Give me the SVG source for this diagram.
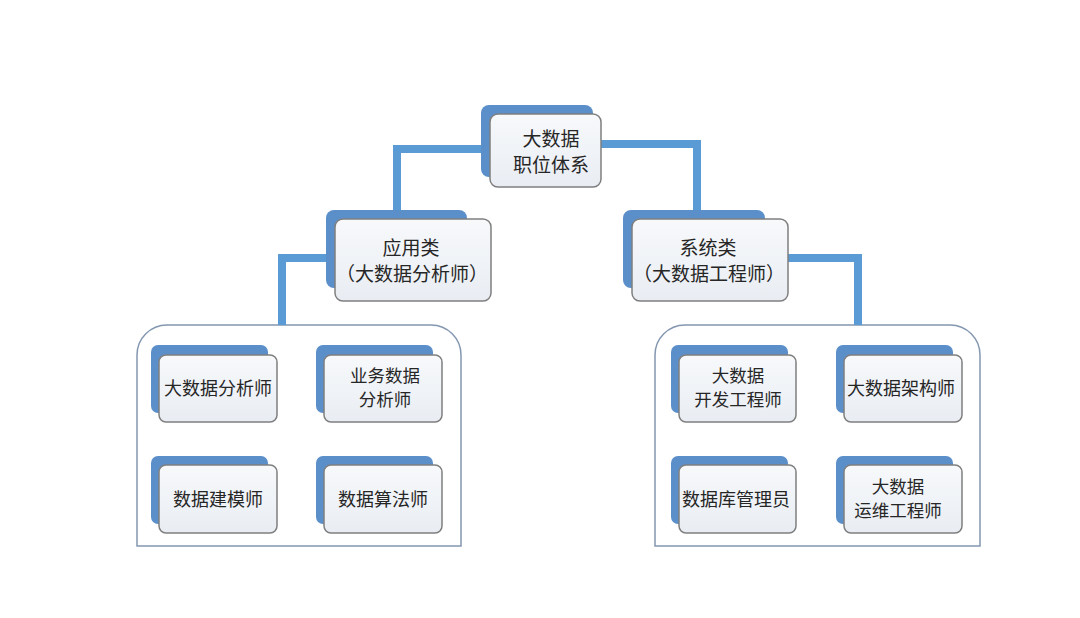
<svg xmlns="http://www.w3.org/2000/svg" width="1080" height="618" viewBox="0 0 1080 618">
<defs>
<linearGradient id="fg" x1="0" y1="0" x2="0" y2="1">
<stop offset="0" stop-color="#f7f9fb"/>
<stop offset="1" stop-color="#e9edf3"/>
</linearGradient>
<style>
.back{fill:#5b8fca;}
.front{fill:url(#fg);stroke:#7f7f7f;stroke-width:1.5;}
.conn{fill:none;stroke:#5b9bd5;stroke-width:8;}
.cont{fill:#ffffff;stroke:#8497b0;stroke-width:1.5;}
text{font-family:"Noto Sans CJK SC","Noto Sans",sans-serif;fill:#262626;text-anchor:middle;}
.t19{font-size:19px;}
.t18{font-size:18px;}
.t17{font-size:17.5px;}
</style>
</defs>
<rect width="1080" height="618" fill="#ffffff"/>

<g id="containers">
<path class="cont" d="M137,546 V355 A30,30 0 0 1 167,325 H431 A30,30 0 0 1 461,355 V546 Z"/>
<path class="cont" d="M655,546 V355 A30,30 0 0 1 685,325 H950 A30,30 0 0 1 980,355 V546 Z"/>
</g>

<g id="connectors">
<polyline class="conn" points="490,149 397,149 397,212"/>
<polyline class="conn" points="601,144 697,144 697,212"/>
<polyline class="conn" points="335,258 282,258 282,325"/>
<polyline class="conn" points="788,258 858,258 858,325"/>
</g>

<g id="root">
<rect class="back" x="481" y="105" width="112" height="72" rx="8"/>
<rect class="front" x="490" y="114" width="111" height="73" rx="8"/>
<text class="t19" x="551" y="146">大数据</text>
<text class="t19" x="551" y="171.5">职位体系</text>
</g>

<g id="app">
<rect class="back" x="326" y="210" width="141" height="78" rx="8"/>
<rect class="front" x="335" y="219" width="156" height="82" rx="8"/>
<text class="t19" x="411" y="255">应用类</text>
<text class="t19" x="412" y="280.5">（大数据分析师）</text>
</g>

<g id="sys">
<rect class="back" x="623" y="210" width="142" height="78" rx="8"/>
<rect class="front" x="632" y="219" width="156" height="82" rx="8"/>
<text class="t19" x="708" y="255">系统类</text>
<text class="t19" x="709" y="280.5">（大数据工程师）</text>
</g>

<g id="n-l1">
<rect class="back" x="151" y="345" width="117" height="68" rx="7"/>
<rect class="front" x="159" y="355" width="118" height="67" rx="7"/>
<text class="t18" x="218" y="395">大数据分析师</text>
</g>
<g id="n-l2">
<rect class="back" x="316" y="345" width="117" height="68" rx="7"/>
<rect class="front" x="324" y="355" width="118" height="67" rx="7"/>
<text class="t17" x="385" y="382">业务数据</text>
<text class="t17" x="385" y="406">分析师</text>
</g>
<g id="n-l3">
<rect class="back" x="151" y="456" width="117" height="68" rx="7"/>
<rect class="front" x="159" y="465" width="118" height="68" rx="7"/>
<text class="t18" x="218" y="506">数据建模师</text>
</g>
<g id="n-l4">
<rect class="back" x="316" y="456" width="117" height="68" rx="7"/>
<rect class="front" x="324" y="465" width="118" height="68" rx="7"/>
<text class="t18" x="383" y="506">数据算法师</text>
</g>

<g id="n-r1">
<rect class="back" x="671" y="345" width="117" height="68" rx="7"/>
<rect class="front" x="679" y="355" width="117" height="67" rx="7"/>
<text class="t17" x="738" y="382">大数据</text>
<text class="t17" x="738" y="406">开发工程师</text>
</g>
<g id="n-r2">
<rect class="back" x="836" y="345" width="117" height="68" rx="7"/>
<rect class="front" x="844" y="355" width="118" height="67" rx="7"/>
<text class="t18" x="901" y="395">大数据架构师</text>
</g>
<g id="n-r3">
<rect class="back" x="671" y="456" width="117" height="68" rx="7"/>
<rect class="front" x="679" y="465" width="117" height="68" rx="7"/>
<text class="t18" x="736" y="506">数据库管理员</text>
</g>
<g id="n-r4">
<rect class="back" x="836" y="456" width="117" height="68" rx="7"/>
<rect class="front" x="844" y="465" width="118" height="68" rx="7"/>
<text class="t17" x="898" y="493">大数据</text>
<text class="t17" x="898" y="517">运维工程师</text>
</g>
</svg>
